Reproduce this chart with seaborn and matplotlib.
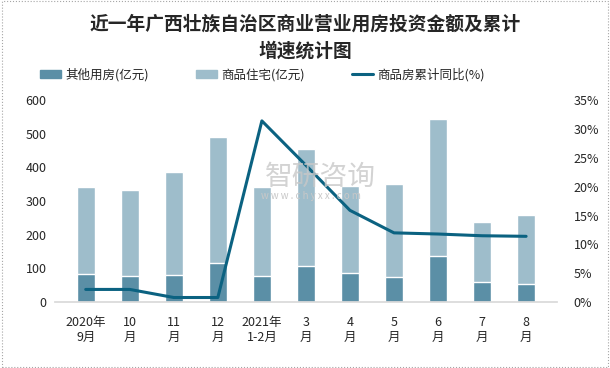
"""
近一年广西壮族自治区商业营业用房投资金额及累计增速统计图
"""

import matplotlib
matplotlib.use('Agg')
import matplotlib.pyplot as plt  # noqa: E402
import seaborn as sns  # noqa: E402
import pandas as pd  # noqa: E402
from matplotlib.patches import Patch, Rectangle  # noqa: E402
from matplotlib.lines import Line2D  # noqa: E402
from matplotlib.ticker import FuncFormatter  # noqa: E402

months = ['2020年\n9月', '10\n月', '11\n月', '12\n月', '2021年\n1-2月', '3\n月',
          '4\n月', '5\n月', '6\n月', '7\n月', '8\n月']
other_use = [83, 77, 80, 115, 77, 106, 86, 74, 136, 59, 53]
housing = [260, 257, 307, 376, 266, 349, 260, 278, 408, 180, 207]
growth = [2.2, 2.2, 0.8, 0.8, 31.4, 23.7, 15.9, 12.0, 11.8, 11.5, 11.4]

dark = '#5B8FA6'
light = '#9EBDCB'
line_c = '#0B6281'

sns.set_theme(style='white')
plt.rcParams['font.family'] = ['Noto Sans CJK SC', 'DejaVu Sans']

df = pd.DataFrame({'month': months, 'other': other_use, 'housing': housing,
                   'growth': growth})
df['total'] = df['other'] + df['housing']

fig = plt.figure(figsize=(6.1, 3.68), dpi=100)
ax = fig.add_axes([0.09, 0.179, 0.823, 0.549])

sns.barplot(data=df, x='month', y='total', color=light, saturation=1,
            width=0.4, ax=ax)
sns.barplot(data=df, x='month', y='other', color=dark, saturation=1,
            width=0.4, ax=ax)
ax.set_ylim(0, 600)
ax.set_yticks(range(0, 601, 100))
ax.set_xlim(-0.7, len(months) - 0.3)
ax.set_xlabel('')
ax.set_ylabel('')
ax.tick_params(axis='both', labelsize=9, length=0, pad=6)
ax.tick_params(axis='x', pad=10)
for s in ['top', 'right', 'left']:
    ax.spines[s].set_visible(False)
ax.spines['bottom'].set_color('#D9D9D9')

ax2 = ax.twinx()
sns.lineplot(x=list(range(len(months))), y=df['growth'] / 100, color=line_c,
             linewidth=2.2, ax=ax2)
ax2.set_ylim(0, 0.35)
ax2.set_ylabel('')
ax2.set_yticks([i / 100 for i in range(0, 36, 5)])
ax2.yaxis.set_major_formatter(FuncFormatter(lambda v, _: f'{v * 100:.0f}%'))
ax2.tick_params(axis='y', labelsize=9, length=0, pad=12)
for s in ['top', 'right', 'left', 'bottom']:
    ax2.spines[s].set_visible(False)

# watermark
fig.text(0.525, 0.52, '智研咨询', fontsize=20, color='#C8C8C8', alpha=0.8,
         ha='center', va='center')
fig.text(0.51, 0.467, 'w w w . c h y x x . c o m', fontsize=7, color='#C8C8C8',
         ha='center', va='center')

fig.text(0.5, 0.935, '近一年广西壮族自治区商业营业用房投资金额及累计',
         fontsize=13.5, fontweight='bold', ha='center', va='center')
fig.text(0.5, 0.862, '增速统计图', fontsize=13.5, fontweight='bold',
         ha='center', va='center')

handles = [Patch(color=dark), Patch(color=light),
           Line2D([0], [0], color=line_c, linewidth=2.2)]
labels = ['其他用房(亿元)', '商品住宅(亿元)', '商品房累计同比(%)']
fig.legend(handles, labels, loc='center', bbox_to_anchor=(0.43, 0.797),
           ncol=3, frameon=False, fontsize=9, columnspacing=3.8,
           handlelength=1.7, handleheight=0.6, handletextpad=0.3)

fig.patches.append(Rectangle((0.003, 0.004), 0.994, 0.992,
                             transform=fig.transFigure, fill=False,
                             edgecolor='#A6A6A6', linewidth=0.8,
                             linestyle=':'))

plt.savefig('out.png', dpi=100)
plt.close()
